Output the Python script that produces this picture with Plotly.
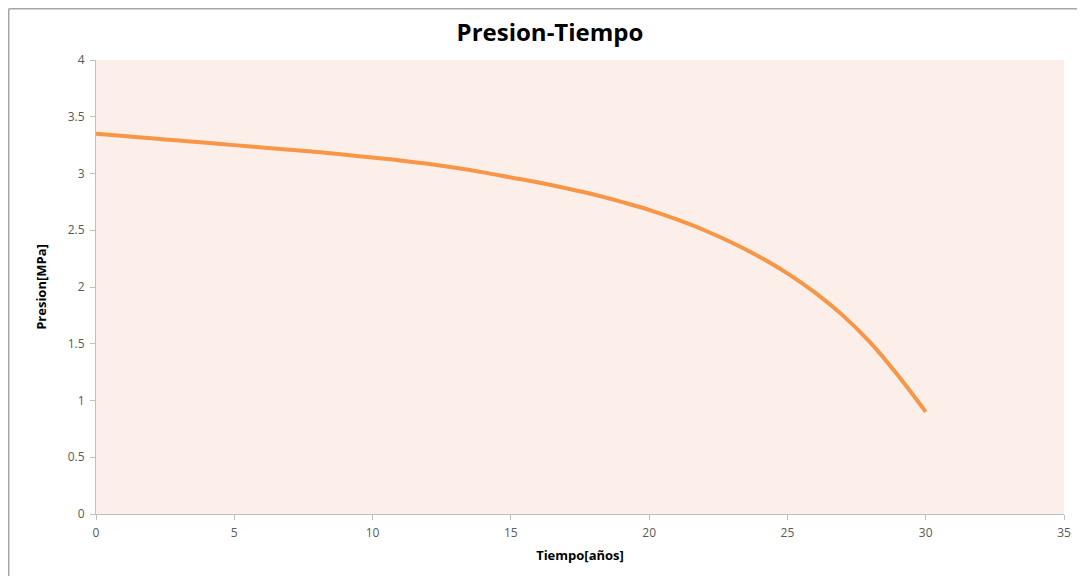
import plotly.graph_objects as go

tiempo = [0, 1, 2, 3, 4, 5, 6, 7, 8, 9, 10, 11, 12, 13, 14, 15, 16, 17, 18, 19, 20,
          21, 22, 23, 24, 25, 26, 27, 28, 29, 30]
presion = [3.35, 3.33, 3.31, 3.29, 3.27, 3.25, 3.23, 3.21, 3.19, 3.165, 3.14, 3.115,
           3.085, 3.05, 3.01, 2.965, 2.92, 2.87, 2.815, 2.75, 2.68, 2.595, 2.50, 2.39,
           2.265, 2.12, 1.95, 1.75, 1.51, 1.22, 0.90]

x_ticks = [0, 5, 10, 15, 20, 25, 30, 35]
y_ticks = [0, 0.5, 1, 1.5, 2, 2.5, 3, 3.5, 4]

fig = go.Figure()
fig.add_trace(go.Scatter(
    x=tiempo, y=presion, mode="lines",
    line=dict(color="#F79646", width=4, shape="spline", smoothing=1.0),
    showlegend=False,
))

# page has an 8px body margin, so the figure is drawn 8px in from the window edge
W, H = 1077, 568
L, R, T, B = 88, 21, 52, 62
pw, ph = W - L - R, H - T - B

fig.update_layout(
    width=W, height=H,
    margin=dict(l=L, r=R, t=T, b=B),
    paper_bgcolor="white",
    plot_bgcolor="#FCEEE9",
    font=dict(family="Open Sans, Liberation Sans, sans-serif", color="#595959", size=12),
    title=dict(text="<b>Presion-Tiempo</b>", x=542 / W, xanchor="center",
               y=1 - 25 / H, yanchor="middle",
               font=dict(size=24, color="#000000", family="Open Sans, sans-serif")),
    xaxis=dict(
        range=[0, 35], tickvals=x_ticks, ticktext=[str(v) for v in x_ticks],
        showgrid=False, zeroline=False, showline=True, linecolor="#BFBFBF", linewidth=1,
        ticks="outside", ticklen=5, tickcolor="#BFBFBF", ticklabelstandoff=3,
        title=dict(text="<b>Tiempo[años]</b>", standoff=10,
                   font=dict(size=13, color="#000000")),
    ),
    yaxis=dict(
        range=[0, 4], tickvals=y_ticks, ticktext=[f"{v:g}" for v in y_ticks],
        showgrid=False, zeroline=False, showline=True, linecolor="#BFBFBF", linewidth=1,
        ticks="outside", ticklen=5, tickcolor="#BFBFBF", ticklabelstandoff=3,
        title=dict(text="<b>Presion[MPa]</b>", standoff=18,
                   font=dict(size=13, color="#000000")),
    ),
)

# outer chart border (top and left visible)
x_left = (0.75 - L) / pw
y_top = 1 + (T - 0.75) / ph
fig.add_shape(type="line", xref="paper", yref="paper",
              x0=x_left, x1=1 + R / pw + 0.01, y0=y_top, y1=y_top,
              line=dict(color="#A6A6A6", width=1.5))
fig.add_shape(type="line", xref="paper", yref="paper",
              x0=x_left, x1=x_left, y0=y_top, y1=-B / ph - 0.01,
              line=dict(color="#A6A6A6", width=1.5))

fig.write_html("out.html")
